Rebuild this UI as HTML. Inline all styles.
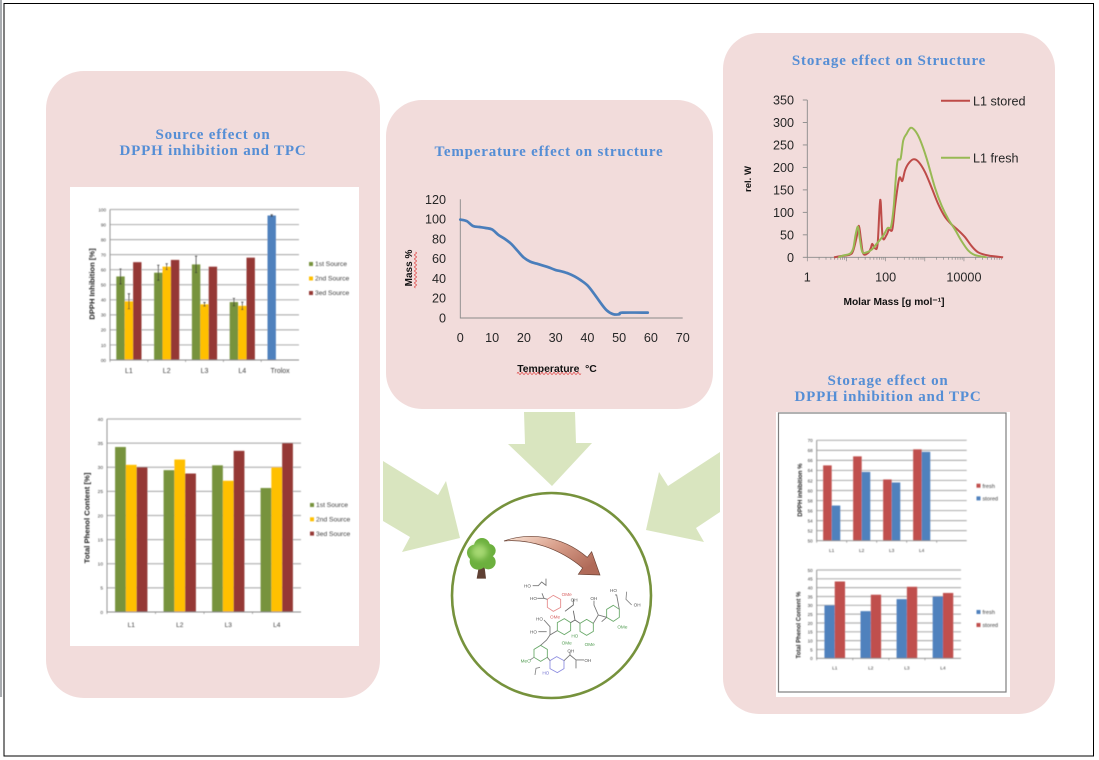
<!DOCTYPE html>
<html lang="en">
<head>
<meta charset="utf-8">
<title>Storage and source effects summary</title>
<style>
html,body{margin:0;padding:0;background:#fff;width:1099px;height:760px;overflow:hidden}
svg{display:block;position:absolute;left:0;top:0}
text{font-family:"Liberation Sans",sans-serif}
.ttl{font-family:"Liberation Serif",serif;font-weight:bold;font-size:15px;letter-spacing:0.8px;fill:#558ed5;text-anchor:middle}
.big{font-size:12.6px;fill:#262626}
.mol{font-size:14px;font-family:"Liberation Sans",sans-serif}
</style>
</head>
<body>
<svg id="root" xmlns="http://www.w3.org/2000/svg" width="1099" height="760" viewBox="0 0 1099 760">
<defs>
<filter id="soft" x="-5%" y="-5%" width="110%" height="110%"><feGaussianBlur stdDeviation="0.5"/></filter>
<filter id="softer" x="-5%" y="-5%" width="110%" height="110%"><feGaussianBlur stdDeviation="1.1"/></filter>
<filter id="glow" x="-30%" y="-30%" width="160%" height="160%"><feGaussianBlur stdDeviation="9"/></filter>
<linearGradient id="arrowGrad" x1="0" y1="0" x2="1" y2="0.6">
<stop offset="0" stop-color="#fbe6d8"/><stop offset="0.5" stop-color="#d9a08c"/><stop offset="1" stop-color="#b06a58"/>
</linearGradient>
</defs>
<rect x="0" y="0" width="1099" height="760" fill="#fff"/>
<rect x="0" y="0" width="2" height="697" fill="#a9acb0"/>
<rect x="4" y="3.5" width="1089.5" height="752.5" fill="none" stroke="#000" stroke-width="1"/>

<rect x="46" y="71" width="334" height="627" rx="38" fill="#f2dcdb"/>
<rect x="386" y="100" width="327" height="309" rx="36" fill="#f2dcdb"/>
<rect x="723" y="33" width="332" height="681" rx="36" fill="#f2dcdb"/>

<text class="ttl" x="213" y="139">Source effect on</text>
<text class="ttl" x="213" y="155">DPPH inhibition and TPC</text>
<text class="ttl" x="549" y="156">Temperature effect on structure</text>
<text class="ttl" x="889" y="65">Storage effect on Structure</text>
<text class="ttl" x="888" y="385">Storage effect on</text>
<text class="ttl" x="888" y="401">DPPH inhibition and TPC</text>

<rect x="70" y="187" width="289" height="459" fill="#fff"/>
<rect x="776" y="412" width="234" height="285" fill="#fff"/>
<rect x="778.5" y="413" width="227.5" height="279" fill="none" stroke="#7f7f7f" stroke-width="1.2"/>

<polygon points="524,412 575,412 576,443 592,443 552,486 508,444 525,444" fill="#d9e5bf"/>
<polygon points="383,461 438,495 446,481 460,538 402,552 410,537 383,521" fill="#d9e5bf"/>
<polygon points="720,452 668,486 659,472 646,530 704,542 696,528 720,512" fill="#d9e5bf"/>

<ellipse cx="551.5" cy="595.5" rx="99.5" ry="102.5" fill="#fff" stroke="#76923c" stroke-width="2.6"/>

<g id="chartA" filter="url(#soft)"></g>
<g id="chartB" filter="url(#soft)"></g>
<g id="chartC" filter="url(#soft)"></g>
<g id="chartD" filter="url(#soft)"></g>
<g id="chartT"></g>
<g id="chartM"></g>

<path d="M517 373.5q1 -2 2 0t2 0t2 0t2 0t2 0t2 0t2 0t2 0t2 0t2 0t2 0t2 0t2 0t2 0t2 0t2 0t2 0t2 0t2 0t2 0t2 0t2 0t2 0t2 0t2 0t2 0t2 0t2 0t2 0t2 0t2 0t2 0" fill="none" stroke="#e04040" stroke-width="0.7"/>
<path d="M415.5 288q-2 -1 0 -2t0 -2t0 -2t0 -2t0 -2t0 -2t0 -2t0 -2t0 -2t0 -2t0 -2t0 -2t0 -2t0 -2t0 -2t0 -2t0 -2t0 -2" fill="none" stroke="#e04040" stroke-width="0.7"/>

<g transform="translate(450 480) scale(0.3333)">
<g>
<polygon points="86,262 104,262 108,296 80,296" fill="#5f4033"/>
<g fill="#6cb03e">
<circle cx="75" cy="218" r="24"/>
<circle cx="96" cy="198" r="24"/>
<circle cx="117" cy="212" r="20"/>
<circle cx="115" cy="246" r="22"/>
<circle cx="84" cy="244" r="25"/>
<circle cx="95" cy="224" r="32"/>
</g>
<ellipse cx="88" cy="215" rx="24" ry="22" fill="#a6d872" filter="url(#glow)"/>
</g>
<path d="M162 183C230 158 330 162 412 232L425 215L450 285L385 283L398 264C330 206 240 176 162 183Z" fill="url(#arrowGrad)" stroke="#6a4234" stroke-width="2" filter="url(#softer)"/>
<g filter="url(#softer)" fill="none" stroke-width="2.6">
<polygon points="310,346 332,358 332,382 310,394 292,382 292,358" stroke="#e58a8a"/>
<polygon points="343,416 362,428 362,452 343,464 322,452 322,428" stroke="#68a868"/>
<polygon points="410,418 430,430 430,454 410,466 390,454 390,430" stroke="#68a868"/>
<polygon points="490,376 508,388 508,412 490,424 470,412 470,388" stroke="#68a868"/>
<polygon points="272,496 292,508 292,532 272,544 252,532 252,508" stroke="#68a868"/>
<polygon points="320,530 342,542 342,566 322,578 300,566 300,542" stroke="#8e8ee0"/>
<path d="M248 317H265L275 306L288 316V296M262 355H282L292 358M282 355L276 340" stroke="#777"/>
<path d="M345 394L370 375V358M370 392L375 420L390 430M375 420L362 428" stroke="#666"/>
<path d="M322 452L300 465L290 480L272 496M282 420L300 440V465M265 455H290" stroke="#777"/>
<path d="M430 430L445 405L470 412M445 405L432 375V362M455 425L470 412M508 388L500 345H495" stroke="#777"/>
<path d="M292 532L300 542M342 542L360 525V515M360 525L378 540H402M378 540V565" stroke="#777"/>
<path d="M530 335L528 358L545 375M252 532L240 540M255 585L258 565L270 562" stroke="#888"/>
</g>
<g class="mol" filter="url(#soft)" fill="#555">
<text x="222" y="323">HO</text>
<text x="240" y="360">HO</text>
<text x="335" y="348" fill="#d86060">OMe</text>
<text x="362" y="364">OH</text>
<text x="300" y="415" fill="#d86060">OMe</text>
<text x="258" y="422">HO</text>
<text x="240" y="460">HO</text>
<text x="421" y="360">OH</text>
<text x="480" y="336">HO</text>
<text x="551" y="379">OH</text>
<text x="502" y="445" fill="#4f9a4f">OMe</text>
<text x="364" y="472" fill="#4f9a4f">HO</text>
<text x="335" y="493" fill="#4f9a4f">OMe</text>
<text x="404" y="498" fill="#4f9a4f">OMe</text>
<text x="212" y="547" fill="#4f9a4f">MeO</text>
<text x="352" y="518">OH</text>
<text x="403" y="546">OH</text>
<text x="277" y="584" fill="#7070d0">HO</text>
</g>
</g>
</svg>

<script>
const NS = "http://www.w3.org/2000/svg";

/* DPPH inhibition by source */
const dppSourceCats = ["L1", "L2", "L3", "L4", "Trolox"];
const dppSourceTicks = ["00", "10", "20", "30", "40", "50", "60", "70", "80", "90", "100"];
const dppSource1 = [55.5, 58, 63.5, 38.5, 96];
const dppSource2 = [39, 62, 37, 36, null];
const dppSource3 = [65, 66.5, 62, 68, null];
const dppSource1Err = [5, 5, 5.5, 2.5, 0.5];
const dppSource2Err = [5, 2, 1.2, 2.5, 0];

/* Total phenol content by source */
const tpcSourceCats = ["L1", "L2", "L3", "L4"];
const tpcSourceTicks = ["0", "5", "10", "15", "20", "25", "30", "35", "40"];
const tpcSource1 = [34.2, 29.4, 30.4, 25.7];
const tpcSource2 = [30.5, 31.6, 27.2, 30];
const tpcSource3 = [30, 28.7, 33.4, 35];

/* DPPH inhibition, fresh vs stored */
const dppStoreCats = ["L1", "L2", "L3", "L4", ""];
const dppStoreTicks = ["50", "52", "54", "56", "58", "60", "62", "64", "66", "68", "70"];
const dppFresh = [65, 66.8, 62.2, 68.2];
const dppStored = [57, 63.7, 61.6, 67.7];

/* Total phenol content, fresh vs stored */
const tpcStoreCats = ["L1", "L2", "L3", "L4"];
const tpcStoreTicks = ["0", "5", "10", "15", "20", "25", "30", "35", "40", "45", "50"];
const tpcFresh = [30, 26.7, 33.5, 35];
const tpcStored = [43.5, 36, 40.5, 37];

/* Temperature curve */
const tempX = [0, 2, 4, 6, 8, 10, 12, 14, 16, 18, 20, 22, 24, 26, 28, 30, 32, 34, 36, 38, 40, 42, 44, 46, 48, 50, 51, 59];
const tempMass = [99.5, 98, 93, 92, 91, 89.5, 84, 80, 75, 68, 61, 57, 55, 53, 51, 48.5, 47, 45, 42, 38, 33, 25, 16, 8, 4, 3.7, 5.4, 5.4];
const tempXTicks = [0, 10, 20, 30, 40, 50, 60, 70];
const tempYTicks = [0, 20, 40, 60, 80, 100, 120];

/* Molar mass distribution */
const storedMass = [4.8, 7.5, 12.3, 14.9, 18.2, 20.8, 23.4, 26.9, 36, 42, 45.7, 53.4, 62.5, 73, 84, 106, 122, 148, 173, 210, 232, 267, 312, 379, 508, 682, 1010, 1493, 2213, 3273, 4842, 7161, 10600, 15700, 23200, 41800, 100000];
const storedW = [0, 3, 6, 15, 45, 70, 40, 8, 10, 21, 30, 20, 30, 128, 45, 50, 62, 62, 112, 165, 178, 170, 193, 208, 218, 213, 190, 155, 118, 90, 73, 60, 45, 25, 11, 4, 0];
const freshMass = [6.2, 8.3, 12.3, 14.9, 17.1, 19.7, 22.1, 25.4, 32.7, 44, 59, 87, 112, 137, 160, 180, 202, 242, 282, 344, 435, 561, 753, 1114, 1820, 2690, 3981, 5890, 8710, 12900, 19100, 37900];
const freshW = [0, 4, 8, 20, 50, 68, 40, 12, 11, 17, 30, 48, 65, 68, 110, 170, 215, 220, 260, 275, 288, 282, 262, 220, 155, 115, 85, 62, 36, 15, 5, 0];
const massXTicks = [1, 100, 10000];
const massYTicks = [0, 50, 100, 150, 200, 250, 300, 350];

function add(parent, tag, attrs, text) {
  const n = document.createElementNS(NS, tag);
  for (const k in attrs) n.setAttribute(k, attrs[k]);
  if (text !== undefined) n.textContent = text;
  parent.appendChild(n);
  return n;
}

function linear(d0, d1, r0, r1) {
  return function (v) { return r0 + (v - d0) * (r1 - r0) / (d1 - d0); };
}

function barChart(rootId, o) {
  const g = document.getElementById(rootId);
  const y = linear(Number(o.ticks[0]), Number(o.ticks[o.ticks.length - 1]), o.bottom, o.top);
  const step = (o.right - o.left) / o.cats.length;
  const barW = step / (o.series.length + o.gap);
  o.ticks.forEach(function (t) {
    const ty = y(Number(t));
    if (Number(t) !== Number(o.ticks[0])) {
      const line = add(g, "line", { x1: o.left, x2: o.right, y1: ty, y2: ty, stroke: "#b4b4b4", "stroke-width": 1.2 });
      
      
    }
    const label = add(g, "text", { x: o.left - 4, y: ty + 1.8, "text-anchor": "end", "font-size": o.tickSize, fill: "#404040" }, t);
    
    
  });
  o.cats.forEach(function (c, i) {
    const cx = o.left + step * (i + 0.5);
    const label = add(g, "text", { x: cx, y: o.catY, "text-anchor": "middle", "font-size": o.catSize, fill: "#404040" }, c);
    
    
    const mark = add(g, "line", { x1: o.left + step * i, x2: o.left + step * i, y1: o.bottom, y2: o.bottom + 2, stroke: "#8a8a8a", "stroke-width": 0.7 });
    
    
    o.series.forEach(function (s, si) {
      const v = s.values[i];
      if (v === null || v === undefined) return;
      const bx = o.left + step * i + (o.gap / 2 + si) * barW;
      const color = (s.pointColors && s.pointColors[i]) || s.color;
      const bar = add(g, "rect", { x: bx, y: y(v), width: barW, height: o.bottom - y(v), fill: color });
      
      
      if (s.errs && s.errs[i]) {
        const ex = bx + barW / 2;
        const err = add(g, "path", { d: "M" + ex + " " + y(v + s.errs[i]) + "V" + y(v - s.errs[i]) + "M" + (ex - 1.2) + " " + y(v + s.errs[i]) + "h2.4M" + (ex - 1.2) + " " + y(v - s.errs[i]) + "h2.4", stroke: "#333", "stroke-width": 0.7, fill: "none" });
        
        
      }
    });
  });
  const ax = add(g, "path", { d: "M" + o.left + " " + o.top + "V" + o.bottom + "H" + o.right, stroke: "#8a8a8a", "stroke-width": 0.9, fill: "none" });
  
  
  const title = add(g, "text", { x: o.titleX, y: o.titleY, "text-anchor": "middle", "font-size": o.titleSize, "font-weight": "bold", fill: "#262626", transform: "rotate(-90 " + o.titleX + " " + o.titleY + ")" }, o.title);
  
  
  o.series.forEach(function (s, si) {
    const ly = o.legendY + si * o.legendStep;
    const swatch = add(g, "rect", { x: o.legendX, y: ly - 2, width: 4, height: 4, fill: s.color });
    
    
    const text = add(g, "text", { x: o.legendX + 6, y: ly + 2.2, "font-size": o.legendSize, fill: "#404040" }, s.name);
    
    
  });
}

barChart("chartA", {
  left: 110, right: 299, top: 209.5, bottom: 360, gap: 1.5,
  cats: dppSourceCats, ticks: dppSourceTicks, tickSize: 4.6, catSize: 7, catY: 373,
  title: "DPPH Inhibition [%]", titleX: 94.5, titleY: 284, titleSize: 7.6,
  legendX: 309, legendY: 264, legendStep: 14.5, legendSize: 6.7,
  series: [
    { key: "1st-source", name: "1st Source", values: dppSource1, errs: dppSource1Err, color: "#77933c", pointColors: [null, null, null, null, "#4f81bd"] },
    { key: "2nd-source", name: "2nd Source", values: dppSource2, errs: dppSource2Err, color: "#ffc000" },
    { key: "3ed-source", name: "3ed Source", values: dppSource3, color: "#953735" }
  ]
});

barChart("chartB", {
  left: 107, right: 301, top: 419, bottom: 612, gap: 1.5,
  cats: tpcSourceCats, ticks: tpcSourceTicks, tickSize: 4.8, catSize: 6.6, catY: 627,
  title: "Total Phenol Content [%]", titleX: 89.5, titleY: 518, titleSize: 7.7,
  legendX: 310, legendY: 505, legendStep: 14.3, legendSize: 6.7,
  series: [
    { key: "1st-source", name: "1st Source", values: tpcSource1, color: "#77933c" },
    { key: "2nd-source", name: "2nd Source", values: tpcSource2, color: "#ffc000" },
    { key: "3ed-source", name: "3ed Source", values: tpcSource3, color: "#953735" }
  ]
});

barChart("chartC", {
  left: 816.7, right: 966.7, top: 440.3, bottom: 540.7, gap: 1.5,
  cats: dppStoreCats, ticks: dppStoreTicks, tickSize: 4.6, catSize: 4.8, catY: 552,
  title: "DPPH inhibition %", titleX: 801.8, titleY: 490, titleSize: 6.1,
  legendX: 976.5, legendY: 485.7, legendStep: 12.7, legendSize: 5.6,
  series: [
    { key: "fresh", name: "fresh", values: dppFresh, color: "#c0504d" },
    { key: "stored", name: "stored", values: dppStored, color: "#4f81bd" }
  ]
});

barChart("chartD", {
  left: 816.7, right: 961, top: 570, bottom: 658.3, gap: 1.5,
  cats: tpcStoreCats, ticks: tpcStoreTicks, tickSize: 4.6, catSize: 4.8, catY: 669.5,
  title: "Total Phenol Content %", titleX: 800.5, titleY: 625, titleSize: 6,
  legendX: 976.5, legendY: 612, legendStep: 13, legendSize: 5.6,
  series: [
    { key: "fresh", name: "fresh", values: tpcFresh, color: "#4f81bd" },
    { key: "stored", name: "stored", values: tpcStored, color: "#c0504d" }
  ]
});

function smoothPath(xs, ys) {
  let d = "M" + xs[0].toFixed(2) + " " + ys[0].toFixed(2);
  for (let i = 0; i < xs.length - 1; i++) {
    const x0 = xs[Math.max(i - 1, 0)], y0 = ys[Math.max(i - 1, 0)];
    const x3 = xs[Math.min(i + 2, xs.length - 1)], y3 = ys[Math.min(i + 2, ys.length - 1)];
    const c1x = xs[i] + (xs[i + 1] - x0) / 6, c1y = ys[i] + (ys[i + 1] - y0) / 6;
    const c2x = xs[i + 1] - (x3 - xs[i]) / 6, c2y = ys[i + 1] - (y3 - ys[i]) / 6;
    d += "C" + c1x.toFixed(2) + " " + c1y.toFixed(2) + " " + c2x.toFixed(2) + " " + c2y.toFixed(2) + " " + xs[i + 1].toFixed(2) + " " + ys[i + 1].toFixed(2);
  }
  return d;
}

/* Temperature chart */
(function () {
  const g = document.getElementById("chartT");
  const x = linear(0, 70, 460.3, 682.7);
  const y = linear(0, 120, 318, 199.3);
  const axes = add(g, "path", { d: "M" + x(0) + " " + y(120) + "V" + y(0) + "H" + x(70), fill: "none", stroke: "#8a8a8a", "stroke-width": 0.9 });
  
  
  tempYTicks.forEach(function (t) {
    const label = add(g, "text", { class: "big", x: 446, y: y(t) + 4.5, "text-anchor": "end" }, t);
    
    
  });
  tempXTicks.forEach(function (t) {
    const label = add(g, "text", { class: "big", x: x(t), y: 342, "text-anchor": "middle" }, t);
    
    
  });
  const line = add(g, "path", { d: smoothPath(tempX.map(x), tempMass.map(y)), fill: "none", stroke: "#4a7ebb", "stroke-width": 2.7, "stroke-linecap": "round" });
  
  
  const xt = add(g, "text", { x: 557, y: 372, "text-anchor": "middle", "font-size": 10.4, "font-weight": "bold", fill: "#111" }, "Temperature\u00A0\u00A0°C");
  
  
  const yt = add(g, "text", { x: 412, y: 268, "text-anchor": "middle", "font-size": 10, "font-weight": "bold", fill: "#111", transform: "rotate(-90 412 268)" }, "Mass %");
  
  
})();

/* Molar mass chart */
(function () {
  const g = document.getElementById("chartM");
  const lx = linear(0, 5, 807.3, 1003.1);
  const x = function (v) { return lx(Math.log10(v)); };
  const y = linear(0, 350, 257.3, 100);
  const axes = add(g, "path", { d: "M" + lx(0) + " " + y(350) + "V" + y(0) + "H" + lx(5), fill: "none", stroke: "#8a8a8a", "stroke-width": 0.9 });
  
  
  massYTicks.forEach(function (t) {
    const mark = add(g, "line", { x1: lx(0) - 4.5, x2: lx(0), y1: y(t), y2: y(t), stroke: "#8a8a8a", "stroke-width": 0.9 });
    
    
    const label = add(g, "text", { class: "big", x: 794, y: y(t) + 4.5, "text-anchor": "end" }, t);
    
    
  });
  for (let dec = 0; dec < 5; dec++) {
    for (let m = 1; m < 10; m++) {
      const px = x(m * Math.pow(10, dec));
      const mark = add(g, "line", { x1: px, x2: px, y1: y(0), y2: y(0) + (m === 1 ? 4 : 2.5), stroke: "#8a8a8a", "stroke-width": 0.7 });
      
      
    }
  }
  massXTicks.forEach(function (t) {
    const label = add(g, "text", { class: "big", x: x(t), y: 281.5, "text-anchor": "middle" }, t);
    
    
  });
  const stored = add(g, "path", { d: smoothPath(storedMass.map(x), storedW.map(y)), fill: "none", stroke: "#be4b48", "stroke-width": 2, "stroke-linejoin": "round" });
  
  
  const fresh = add(g, "path", { d: smoothPath(freshMass.map(x), freshW.map(y)), fill: "none", stroke: "#98b954", "stroke-width": 2, "stroke-linejoin": "round" });
  
  
  const k1 = add(g, "line", { x1: 941, x2: 970, y1: 100.7, y2: 100.7, stroke: "#be4b48", "stroke-width": 2 });
  
  
  const l1 = add(g, "text", { class: "big", x: 973, y: 105.5 }, "L1 stored");
  
  
  const k2 = add(g, "line", { x1: 941, x2: 970, y1: 157.7, y2: 157.7, stroke: "#98b954", "stroke-width": 2 });
  
  
  const l2 = add(g, "text", { class: "big", x: 973, y: 162.5 }, "L1 fresh");
  
  
  const yt = add(g, "text", { x: 751, y: 179, "text-anchor": "middle", "font-size": 9.5, "font-weight": "bold", fill: "#111", transform: "rotate(-90 751 179)" }, "rel. W");
  
  
  const xt = add(g, "text", { x: 894, y: 305, "text-anchor": "middle", "font-size": 10.2, "font-weight": "bold", fill: "#111" }, "Molar Mass [g mol\u207B\u00B9]");
  
  
})();
</script>
</body>
</html>
